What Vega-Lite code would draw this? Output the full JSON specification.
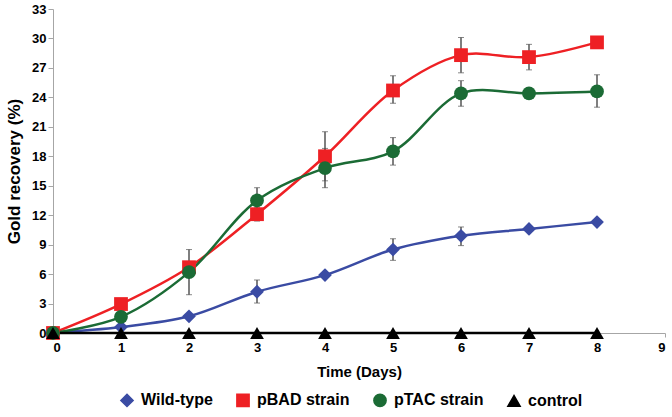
{
  "$schema": "https://vega.github.io/schema/vega-lite/v6.json",
  "width": 612,
  "height": 324,
  "padding": {"left": 5, "top": 3, "right": 5, "bottom": 5},
  "background": "white",
  "config": {
    "font": "Liberation Sans",
    "view": {"stroke": null},
    "axis": {"grid": false, "domainColor": "#A6A6A6", "tickColor": "#A6A6A6", "labelFont": "Liberation Sans", "labelFontWeight": "bold", "labelFontSize": 13, "labelColor": "#000", "titleColor": "#000", "titleFont": "Liberation Sans", "titleFontWeight": "bold", "labelOverlap": false},
    "legend": {"orient": "none", "legendX": 66, "legendY": 383, "direction": "horizontal", "title": null, "labelFontSize": 16, "labelFontWeight": "bold", "labelColor": "#000", "symbolSize": 150, "symbolOpacity": 1, "labelOffset": 6, "columnPadding": 20}
  },
  "datasets": {
    "series": [
      {"day": 0, "value": 0, "series": "Wild-type"},
      {"day": 1, "value": 0.6, "series": "Wild-type"},
      {"day": 2, "value": 1.7, "series": "Wild-type"},
      {"day": 3, "value": 4.2, "series": "Wild-type"},
      {"day": 4, "value": 5.9, "series": "Wild-type"},
      {"day": 5, "value": 8.5, "series": "Wild-type"},
      {"day": 6, "value": 9.9, "series": "Wild-type"},
      {"day": 7, "value": 10.6, "series": "Wild-type"},
      {"day": 8, "value": 11.3, "series": "Wild-type"},
      {"day": 0, "value": 0, "series": "pBAD strain"},
      {"day": 1, "value": 2.95, "series": "pBAD strain"},
      {"day": 2, "value": 6.7, "series": "pBAD strain"},
      {"day": 3, "value": 12.1, "series": "pBAD strain"},
      {"day": 4, "value": 18.0, "series": "pBAD strain"},
      {"day": 5, "value": 24.7, "series": "pBAD strain"},
      {"day": 6, "value": 28.3, "series": "pBAD strain"},
      {"day": 7, "value": 28.1, "series": "pBAD strain"},
      {"day": 8, "value": 29.6, "series": "pBAD strain"},
      {"day": 0, "value": 0, "series": "pTAC strain"},
      {"day": 1, "value": 1.65, "series": "pTAC strain"},
      {"day": 2, "value": 6.2, "series": "pTAC strain"},
      {"day": 3, "value": 13.5, "series": "pTAC strain"},
      {"day": 4, "value": 16.8, "series": "pTAC strain"},
      {"day": 5, "value": 18.5, "series": "pTAC strain"},
      {"day": 6, "value": 24.4, "series": "pTAC strain"},
      {"day": 7, "value": 24.4, "series": "pTAC strain"},
      {"day": 8, "value": 24.6, "series": "pTAC strain"},
      {"day": 0, "value": 0, "series": "control"},
      {"day": 1, "value": 0, "series": "control"},
      {"day": 2, "value": 0, "series": "control"},
      {"day": 3, "value": 0, "series": "control"},
      {"day": 4, "value": 0, "series": "control"},
      {"day": 5, "value": 0, "series": "control"},
      {"day": 6, "value": 0, "series": "control"},
      {"day": 7, "value": 0, "series": "control"},
      {"day": 8, "value": 0, "series": "control"}
    ],
    "errors": [
      {"day": 3, "series": "Wild-type", "lo": 3.05, "hi": 5.4},
      {"day": 5, "series": "Wild-type", "lo": 7.4, "hi": 9.6},
      {"day": 6, "series": "Wild-type", "lo": 8.9, "hi": 10.8},
      {"day": 3, "series": "pBAD strain", "lo": 11.4, "hi": 12.8},
      {"day": 4, "series": "pBAD strain", "lo": 15.5, "hi": 20.5},
      {"day": 5, "series": "pBAD strain", "lo": 23.4, "hi": 26.2},
      {"day": 6, "series": "pBAD strain", "lo": 26.5, "hi": 30.1},
      {"day": 7, "series": "pBAD strain", "lo": 26.8, "hi": 29.4},
      {"day": 2, "series": "pTAC strain", "lo": 3.9, "hi": 8.5},
      {"day": 3, "series": "pTAC strain", "lo": 12.2, "hi": 14.8},
      {"day": 4, "series": "pTAC strain", "lo": 14.8, "hi": 18.8},
      {"day": 5, "series": "pTAC strain", "lo": 17.1, "hi": 19.9},
      {"day": 6, "series": "pTAC strain", "lo": 23.1, "hi": 25.7},
      {"day": 8, "series": "pTAC strain", "lo": 23.0, "hi": 26.3}
    ]
  },
  "layer": [
    {
      "data": {"name": "series"},
      "mark": {"type": "line", "interpolate": "catmull-rom", "strokeWidth": 2.5},
      "encoding": {
        "x": {"field": "day", "type": "quantitative", "scale": {"domain": [0, 9], "nice": false}, "axis": {"values": [0,1,2,3,4,5,6,7,8,9], "format": "d", "title": "Time (Days)", "titleFontSize": 15, "titlePadding": 10, "tickSize": 4, "labelPadding": 4}},
        "y": {"field": "value", "type": "quantitative", "scale": {"domain": [0, 33], "nice": false}, "axis": {"values": [0,3,6,9,12,15,18,21,24,27,30,33], "title": "Gold recovery (%)", "titleFontSize": 17, "titlePadding": 8, "tickSize": 5}},
        "color": {"field": "series", "type": "nominal", "scale": {"domain": ["Wild-type", "pBAD strain", "pTAC strain", "control"], "range": ["#3A4BA3", "#EE2024", "#1B6B35", "#000000"]}},
        "detail": {"field": "series"}
      }
    },
    {
      "data": {"name": "errors"},
      "mark": {"type": "errorbar", "ticks": {"size": 6, "color": "#555555", "strokeWidth": 1.2}, "rule": {"color": "#555555", "strokeWidth": 1.5}},
      "encoding": {
        "x": {"field": "day", "type": "quantitative", "scale": {"domain": [0, 9], "nice": false}, "axis": {"values": [0,1,2,3,4,5,6,7,8,9], "format": "d", "title": "Time (Days)", "titleFontSize": 15, "titlePadding": 10, "tickSize": 4, "labelPadding": 4}},
        "y": {"field": "lo", "type": "quantitative", "scale": {"domain": [0, 33], "nice": false}, "axis": {"values": [0,3,6,9,12,15,18,21,24,27,30,33], "title": "Gold recovery (%)", "titleFontSize": 17, "titlePadding": 8, "tickSize": 5}},
        "y2": {"field": "hi"}
      }
    },
    {
      "data": {"name": "series"},
      "mark": {"type": "point", "filled": true, "opacity": 1, "size": 190},
      "encoding": {
        "x": {"field": "day", "type": "quantitative", "scale": {"domain": [0, 9], "nice": false}, "axis": {"values": [0,1,2,3,4,5,6,7,8,9], "format": "d", "title": "Time (Days)", "titleFontSize": 15, "titlePadding": 10, "tickSize": 4, "labelPadding": 4}},
        "y": {"field": "value", "type": "quantitative", "scale": {"domain": [0, 33], "nice": false}, "axis": {"values": [0,3,6,9,12,15,18,21,24,27,30,33], "title": "Gold recovery (%)", "titleFontSize": 17, "titlePadding": 8, "tickSize": 5}},
        "color": {"field": "series", "type": "nominal", "scale": {"domain": ["Wild-type", "pBAD strain", "pTAC strain", "control"], "range": ["#3A4BA3", "#EE2024", "#1B6B35", "#000000"]}},
        "shape": {"field": "series", "type": "nominal", "scale": {"domain": ["Wild-type", "pBAD strain", "pTAC strain", "control"], "range": ["diamond", "square", "circle", "triangle-up"]}}
      }
    }
  ]
}
